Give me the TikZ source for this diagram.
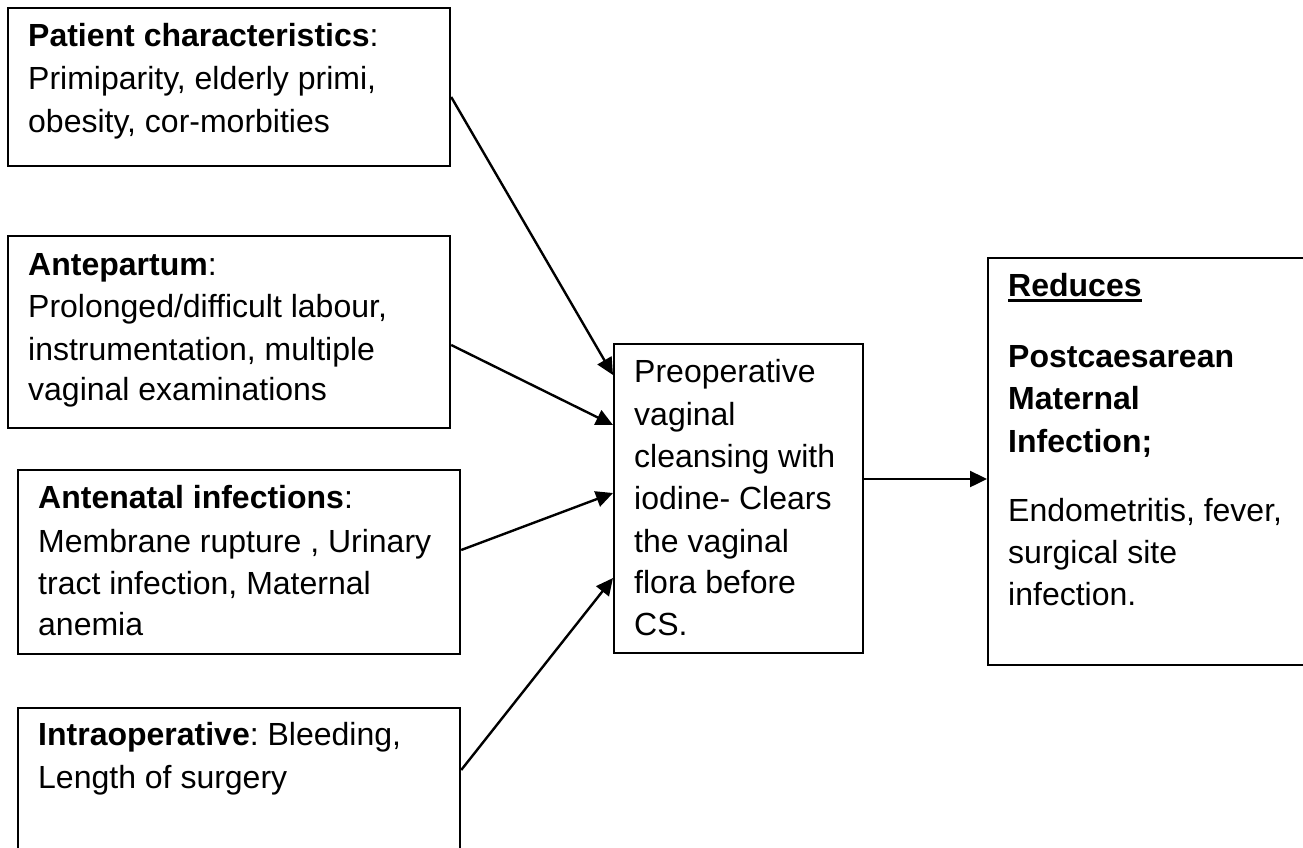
\documentclass[tikz,border=0pt]{standalone}
\usepackage{fontspec}
\setmainfont{Liberation Sans}
\frenchspacing
\usetikzlibrary{arrows.meta,calc}
\begin{document}
\begin{tikzpicture}[x=1pt,y=-1pt,
 box/.style={draw, line width=2.2pt, anchor=north west, inner sep=0pt},
 txt/.style={anchor=base west, inner sep=0pt, font=\fontsize{32}{42}\selectfont},
 arr/.style={line width=2.4pt, -{Triangle[length=17pt,width=16pt]}}]
\clip (0,0) rectangle (1303,847);
\fill[white] (0,0) rectangle (1303,847);
% boxes
\node[box, minimum width=442pt, minimum height=158pt] (b1) at (7,7) {};
\node[box, minimum width=442pt, minimum height=192pt] (b2) at (7,235) {};
\node[box, minimum width=442pt, minimum height=184pt] (b3) at (17,469) {};
\node[box, minimum width=442pt, minimum height=160pt] (b4) at (17,707) {};
\node[box, minimum width=249pt, minimum height=309pt] (mid) at (613,343) {};
\node[box, minimum width=330pt, minimum height=407pt] (red) at (987,257) {};
% texts box 1
\node[txt] (t1a) at (28,46) {\textbf{Patient characteristics}:};
\node[txt] (t1b) at (28,89) {Primiparity, elderly primi,};
\node[txt] (t1c) at (28,132) {obesity, cor-morbities};
% box 2
\node[txt] (t2a) at (28,275) {\textbf{Antepartum}:};
\node[txt] (t2b) at (28,317) {Prolonged/difficult labour,};
\node[txt] (t2c) at (28,360) {instrumentation, multiple};
\node[txt] (t2d) at (28,400) {vaginal examinations};
% box 3
\node[txt] (t3a) at (38,508) {\textbf{Antenatal infections}:};
\node[txt] (t3b) at (38,552) {Membrane rupture , Urinary};
\node[txt] (t3c) at (38,594) {tract infection, Maternal};
\node[txt] (t3d) at (38,635) {anemia};
% box 4
\node[txt] (t4a) at (38,745) {\textbf{Intraoperative}: Bleeding,};
\node[txt] (t4b) at (38,788) {Length of surgery};
% middle
\node[txt] (tma) at (634,382) {Preoperative};
\node[txt] (tmb) at (634,425) {vaginal};
\node[txt] (tmc) at (634,467) {cleansing with};
\node[txt] (tmd) at (634,509) {iodine- Clears};
\node[txt] (tme) at (634,552) {the vaginal};
\node[txt] (tmf) at (634,593) {flora before};
\node[txt] (tmg) at (634,635) {CS.};
% right
\node[txt] (tra) at (1008,296) {\textbf{Reduces}};
\draw[line width=3pt] ($(tra.base west)+(0,4.5)$) -- ($(tra.base east)+(0,4.5)$);
\node[txt] (trb) at (1008,367) {\textbf{Postcaesarean}};
\node[txt] (trc) at (1008,409) {\textbf{Maternal}};
\node[txt] (trd) at (1008,452) {\textbf{Infection;}};
\node[txt] (tre) at (1008,521) {Endometritis, fever,};
\node[txt] (trf) at (1008,563) {surgical site};
\node[txt] (trg) at (1008,605) {infection.};
% connectors
\draw[arr] ($(b1.north east)+(0,90)$) -- ($(mid.north west)+(0,32)$);
\draw[arr] ($(b2.north east)+(0,110)$) -- ($(mid.north west)+(0,82)$);
\draw[arr] ($(b3.north east)+(0,81)$) -- ($(mid.north west)+(0,150)$);
\draw[arr] ($(b4.north east)+(0,63)$) -- ($(mid.north west)+(0,235)$);
\draw[arr] ($(mid.north east)+(0,136)$) -- ($(red.north west)+(0,222)$);
\end{tikzpicture}
\end{document}
